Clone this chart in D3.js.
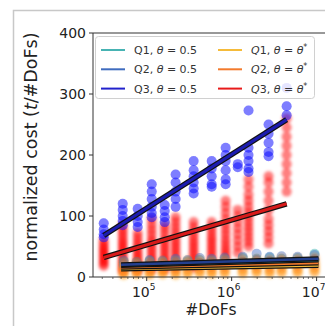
<!DOCTYPE html>
<html>
<head>
<meta charset="utf-8">
<script src="https://cdn.jsdelivr.net/npm/d3@7"></script>
<style>
  html, body { margin: 0; padding: 0; background: #fff; }
  svg { display: block; font-family: "DejaVu Sans", sans-serif; }
</style>
</head>
<body>
<div id="chart"></div>
<script>
// --- data ---
const dofsQ3 = [31200, 52200, 78300, 114600, 163000, 219000, 357000, 582000, 850000, 1180000, 1580000, 2720000, 4440000];
const dofsQ12 = [53600, 76200, 108500, 154000, 219000, 303000, 421000, 582000, 828000, 1350000, 1970000, 2800000, 3870000, 5970000, 9460000];

// Q3, theta = 0.5 (blue dots)
const q3Half = [
  [88, 78, 70, 65],
  [120, 110, 100, 92, 85],
  [112, 100, 90, 82],
  [152, 140, 128, 115, 105, 98],
  [118, 108, 98, 90],
  [168, 155, 140, 128, 115],
  [190, 175, 165, 155, 145, 137],
  [190, 178, 165, 152, 148],
  [212, 200, 190, 175, 160, 152],
  [185, 180],
  [273, 212, 200, 190, 178, 172],
  [250, 235, 220, 205, 198],
  [310, 280, 265]
];
// Q3, theta = theta* (red dots)
const q3Star = [
  [18, 22, 26, 30, 34, 38, 42, 46, 50, 55, 60],
  [10, 15, 20, 25, 30, 35, 40, 45, 50, 55, 60, 66, 72, 78, 85],
  [10, 15, 20, 25, 30, 35, 40, 46, 52, 58, 65, 72],
  [12, 17, 22, 27, 32, 38, 44, 50, 56, 62, 70, 78, 86, 95],
  [12, 17, 22, 27, 32, 38, 44, 50, 56, 62, 70, 78, 85],
  [15, 20, 25, 30, 36, 42, 48, 54, 60, 67, 74, 82, 90, 98],
  [15, 20, 25, 30, 36, 42, 48, 54, 60, 67, 74, 82, 90],
  [20, 26, 32, 38, 44, 50, 56, 62, 68, 75, 82, 90],
  [30, 36, 42, 48, 55, 62, 70, 78, 86, 95, 105, 115, 125],
  [40, 50, 60, 70, 80, 90, 100, 110],
  [50, 58, 66, 74, 82, 90, 98, 106, 115, 125, 135, 148, 160],
  [55, 65, 75, 85, 95, 110, 125, 140, 155, 165],
  [140, 155, 170, 185, 200, 215, 230, 245, 260]
];
// Q1 / Q2 dots
const q1Half = [[18, 24], [17, 22], [19, 26], [18, 25], [20, 27], [19, 26], [21, 28], [20, 27], [22, 29], [24, 31], [22, 30], [25, 32], [23, 30], [24, 31], [28, 38]];
const q2Half = [[20, 27], [19, 25], [21, 28], [20, 27], [22, 30], [21, 28], [23, 31], [22, 30], [24, 32], [25, 33], [28, 38], [26, 33], [25, 34], [26, 33], [29, 36]];
const q1Star = [[3, 8, 13], [4, 9, 14], [3, 8, 14], [4, 10, 15], [3, 9, 14], [4, 10, 16], [5, 11, 16], [4, 10, 15], [5, 11, 17], [5, 12, 18], [6, 12, 18], [5, 11, 17], [6, 13, 19], [6, 12, 19], [7, 14, 20]];
const q2Star = [[6, 12, 18, 24], [7, 13, 19, 25], [6, 12, 18, 24], [7, 14, 20, 26], [6, 13, 19, 25], [7, 14, 21, 27], [8, 15, 21, 27], [7, 14, 20, 26], [8, 15, 22, 28], [8, 16, 23, 29], [9, 16, 23, 29], [8, 15, 22, 28], [9, 17, 24, 30], [9, 16, 23, 30], [10, 18, 25, 31]];

// fitted lines: [dofs, cost] end points
const fitQ3Half = [[31200, 68], [4440000, 258]];
const fitQ3Star = [[31200, 32], [4440000, 120]];
const fitQ1Half = [[50000, 19], [10500000, 28]];
const fitQ2Half = [[50000, 20], [10500000, 30]];
const fitQ1Star = [[50000, 13], [10500000, 19]];
const fitQ2Star = [[50000, 16], [10500000, 23]];

const yTicks = [0, 100, 200, 300, 400];
const xTickExps = [5, 6, 7];

const legendItems = [
  {label: "Q1", star: false, color: "#47b3b3"},
  {label: "Q2", star: false, color: "#3f6cbf"},
  {label: "Q3", star: false, color: "#2222cc"},
  {label: "Q1", star: true, color: "#f5bb3a"},
  {label: "Q2", star: true, color: "#f37a2c"},
  {label: "Q3", star: true, color: "#e81a1a"}
];

// --- drawing ---
const W = 325, H = 326;
const svg = d3.select("#chart").append("svg").attr("width", W).attr("height", H);

const defs = svg.append("defs");
defs.append("filter").attr("id", "soft")
    .attr("x", "-20%").attr("y", "-20%").attr("width", "140%").attr("height", "140%")
  .append("feGaussianBlur").attr("stdDeviation", 1.5);
defs.append("filter").attr("id", "soft2")
    .attr("x", "-20%").attr("y", "-20%").attr("width", "140%").attr("height", "140%")
  .append("feGaussianBlur").attr("stdDeviation", 0.6);

// outer figure frame (cropped)
svg.append("path")
    .attr("d", "M13.5,326V10.5H325")
    .attr("fill", "none")
    .attr("stroke", "#c8c8c8")
    .attr("stroke-width", 1.5);

const margin = {left: 93, top: 33, right: 329, bottom: 277};

let x = d3.scaleLog()
    .domain([Math.pow(10, 4.368), Math.pow(10, 7.146)])
    .range([margin.left, margin.right]);
let y = d3.scaleLinear()
    .domain([0, 400])
    .range([margin.bottom, margin.top]);

const plot = svg.append("g");

function dots(cols, dofs, color, alpha, r, filt) {
  const pts = [];
  cols.forEach(function(vals, i) {
    vals.forEach(function(v) { pts.push([dofs[i], v]); });
  });
  plot.append("g")
      .attr("filter", "url(#" + filt + ")")
    .selectAll("circle")
    .data(pts)
    .enter().append("circle")
      .attr("cx", function(d) { return x(d[0]); })
      .attr("cy", function(d) { return y(d[1]); })
      .attr("r", r)
      .attr("fill", color)
      .attr("fill-opacity", alpha);
}

dots(q3Star, dofsQ3, "#ff0000", 0.5, 5, "soft");
dots(q3Half, dofsQ3, "#1010ff", 0.55, 5, "soft2");
dots(q1Half, dofsQ12, "#30b0b0", 0.45, 5, "soft2");
dots(q2Half, dofsQ12, "#3b6cc8", 0.45, 5, "soft2");
dots(q1Star, dofsQ12, "#ffb020", 0.4, 5, "soft");
dots(q2Star, dofsQ12, "#ff7a10", 0.4, 5, "soft");

let line = d3.line()
    .x(function(d) { return x(d[0]); })
    .y(function(d) { return y(d[1]); });

function fit(data, color, w) {
  plot.append("path").datum(data)
    .attr("fill", "none").attr("stroke", "#111")
    .attr("stroke-width", w + 2.5).attr("d", line);
  plot.append("path").datum(data)
    .attr("fill", "none").attr("stroke", color)
    .attr("stroke-width", w).attr("d", line);
}

fit(fitQ1Star, "#f5bb3a", 2.5);
fit(fitQ2Star, "#f37a2c", 2.5);
fit(fitQ1Half, "#47b3b3", 2.5);
fit(fitQ2Half, "#24408f", 2.5);
fit(fitQ3Star, "#d81a1a", 3);
fit(fitQ3Half, "#1c1cb0", 3);

// spines
const axisColor = "#333";
svg.append("path")
    .attr("d", "M" + margin.left + "," + margin.top + "V" + margin.bottom + "H" + W +
               "M" + margin.left + "," + margin.top + "H" + W)
    .attr("fill", "none").attr("stroke", axisColor).attr("stroke-width", 1);

// y ticks
const yt = svg.append("g");
yTicks.forEach(function(t) {
  yt.append("line")
    .attr("x1", margin.left - 4).attr("x2", margin.left)
    .attr("y1", y(t)).attr("y2", y(t))
    .attr("stroke", axisColor);
  yt.append("text")
    .attr("x", margin.left - 7).attr("y", y(t))
    .attr("dy", "0.36em")
    .attr("text-anchor", "end")
    .attr("font-size", 14)
    .attr("fill", "#222")
    .text(t);
});

// x ticks (major + minor)
const xt = svg.append("g");
x.ticks().forEach(function(t) {
  const major = Math.abs(Math.log10(t) - Math.round(Math.log10(t))) < 1e-9;
  xt.append("line")
    .attr("x1", x(t)).attr("x2", x(t))
    .attr("y1", margin.bottom).attr("y2", margin.bottom + (major ? 4 : 2))
    .attr("stroke", axisColor)
    .attr("stroke-width", major ? 1 : 0.7);
});
xTickExps.forEach(function(e) {
  const tx = xt.append("text")
    .attr("x", x(Math.pow(10, e)) - 3)
    .attr("y", 297)
    .attr("text-anchor", "middle")
    .attr("font-size", 14)
    .attr("fill", "#222");
  tx.append("tspan").text("10");
  tx.append("tspan").attr("dy", -7).attr("font-size", 9).text(e);
});

// axis labels
svg.append("text")
    .attr("x", (margin.left + margin.right) / 2).attr("y", 315)
    .attr("text-anchor", "middle")
    .attr("font-size", 15.5)
    .attr("fill", "#222")
    .text("#DoFs");

const yl = svg.append("text")
    .attr("transform", "translate(37,147) rotate(-90)")
    .attr("text-anchor", "middle")
    .attr("font-size", 17.5)
    .attr("fill", "#222");
yl.append("tspan").text("normalized cost (");
yl.append("tspan").attr("font-style", "italic").text("t");
yl.append("tspan").text("/#DoFs)");

// legend
const lg = svg.append("g");
lg.append("rect")
    .attr("x", 95.5).attr("y", 36.5)
    .attr("width", 219).attr("height", 62)
    .attr("rx", 3)
    .attr("fill", "#fff").attr("fill-opacity", 0.8)
    .attr("stroke", "#d0d0d0");
legendItems.forEach(function(d, i) {
  const col = Math.floor(i / 3), row = i % 3;
  const lx = col === 0 ? 101 : 218;
  const ly = 50 + row * 19.3;
  lg.append("line")
    .attr("x1", lx).attr("x2", lx + 24)
    .attr("y1", ly).attr("y2", ly)
    .attr("stroke", d.color).attr("stroke-width", 2);
  const t = lg.append("text")
    .attr("x", lx + 33).attr("y", ly)
    .attr("dy", "0.36em")
    .attr("font-size", 11)
    .attr("fill", "#333");
  if (!d.star) {
    t.append("tspan").text(d.label + ", ");
    t.append("tspan").attr("font-style", "italic").text("θ");
    t.append("tspan").text(" = 0.5");
  } else {
    t.append("tspan").attr("font-style", "italic").text(d.label[0]);
    t.append("tspan").text(d.label[1] + ", ");
    t.append("tspan").attr("font-style", "italic").text("θ");
    t.append("tspan").text(" = ");
    t.append("tspan").attr("font-style", "italic").text("θ");
    t.append("tspan").attr("dy", -4).attr("font-size", 8).text("*");
  }
});
</script>
</body>
</html>
